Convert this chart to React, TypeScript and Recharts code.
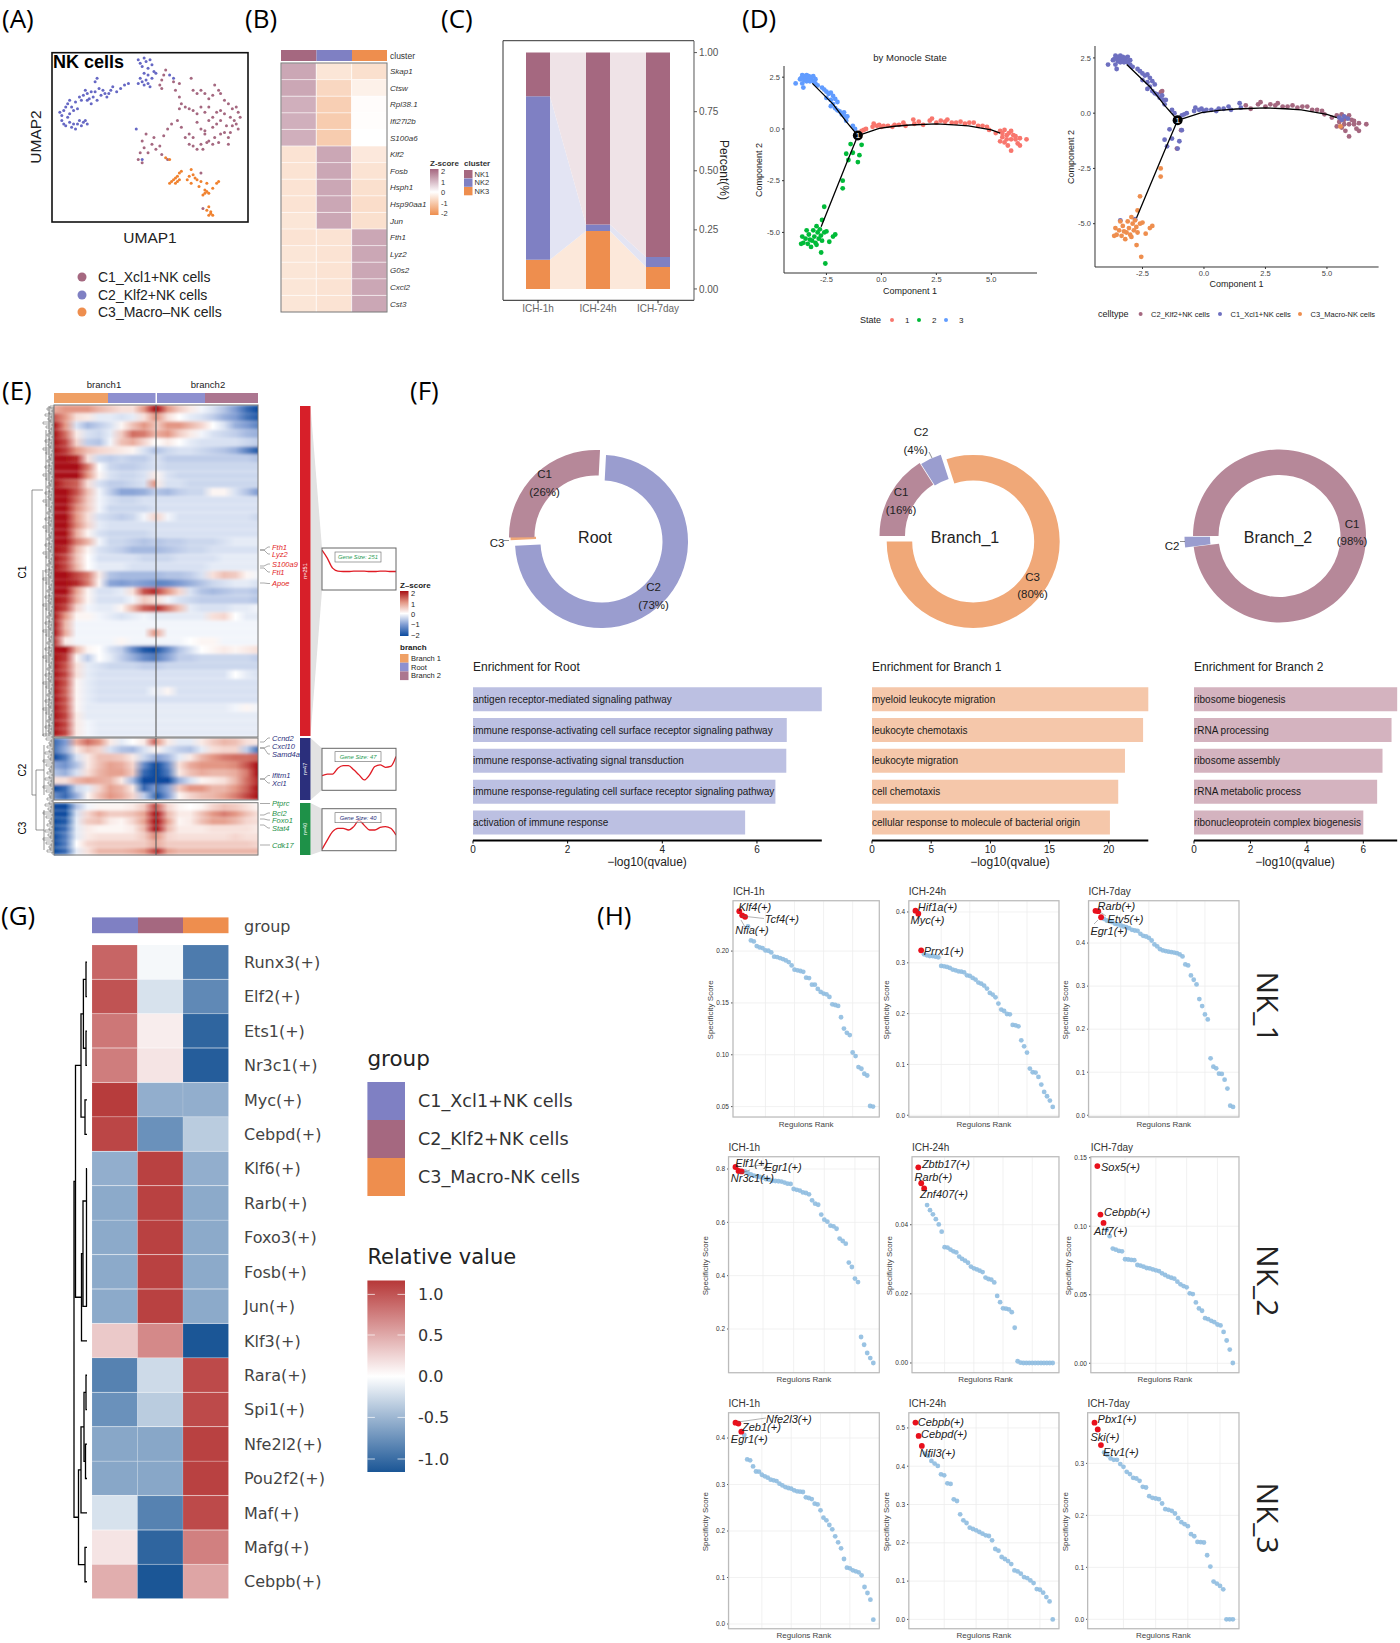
import React from 'react';
import {
  Area, AreaChart, Bar, BarChart, CartesianGrid, Cell, Line, LineChart, LabelList,
  Pie, PieChart, Scatter, ScatterChart, XAxis, YAxis,
} from 'recharts';

const SANS = '"Liberation Sans", Arial, sans-serif';
const DEJA = '"DejaVu Sans", sans-serif';
const NK1 = '#A56880';
const NK2 = '#7F80C3';
const NK3 = '#EE8E4E';

// ---- A: UMAP
const umapKlf2 = [[4,65],[5,63],[6,66],[7,68],[5,60],[6,58],[8,62],[9,64],[7,57],[9,59],[10,56],[11,58],[12,55],[13,58],[14,60],[15,57],[16,59],[17,60],[18,58],[8,70],[9,72],[10,68],[11,66],[13,67],[12,71],[14,74],[15,72],[16,75],[17,78],[18,76],[19,73],[20,77],[18,72],[20,70],[21,74],[22,77],[23,72],[22,83],[23,85],[24,79],[25,75],[26,78],[27,76],[28,74],[29,76],[30,78],[31,80],[33,77],[35,79],[37,81],[39,82],[44,82],[45,85],[46,83],[47,81],[48,84],[49,82],[50,80],[44,96],[45,94],[46,92],[47,97],[48,95],[49,91],[50,96],[51,93],[52,89],[53,88],[47,88],[49,87],[51,85],[60,87],[62,85],[43,55],[46,37]];
const umapXcl1 = [[57,87],[56,84],[58,90],[55,81],[56,79],[62,83],[65,82],[71,85],[63,78],[65,74],[72,78],[74,76],[76,78],[78,76],[80,73],[82,75],[83,81],[85,78],[86,76],[88,72],[90,70],[92,67],[94,68],[95,65],[96,62],[93,60],[66,70],[65,67],[68,68],[70,67],[72,66],[74,64],[76,68],[78,65],[80,68],[82,62],[84,65],[86,66],[88,64],[86,60],[89,57],[91,62],[92,57],[95,55],[94,58],[74,59],[76,55],[78,54],[80,60],[82,56],[84,58],[86,52],[88,53],[90,50],[83,50],[80,48],[78,52],[76,46],[72,50],[70,52],[68,50],[70,46],[66,56],[64,60],[61,58],[59,55],[57,51],[55,45],[52,50],[48,52],[46,48],[47,44],[45,41],[44,37],[46,35],[49,41],[51,46],[53,43],[56,40],[59,37],[72,45],[74,43],[77,43],[79,47],[82,46],[85,47],[90,46],[91,53],[76,29],[77,8]];
const umapMacro = [[66,30],[65,29],[64,27],[63,26],[62,25],[64,24],[65,25],[61,24],[60,23],[63,23],[69,25],[70,27],[72,28],[73,26],[71,31],[74,25],[76,24],[71,23],[75,21],[78,19],[79,18],[79,23],[84,23],[85,24],[82,20],[78,17],[77,16],[80,17],[80,9],[79,7],[81,6],[80,4],[81,5],[82,4],[58,38],[60,37]];

// ---- B: cluster heatmap
const bGenes = ['Skap1','Ctsw','Rpl38.1','Ifi27l2b','S100a6','Klf2','Fosb','Hsph1','Hsp90aa1','Jun','Fth1','Lyz2','G0s2','Cxcl2','Cst3'];
const bNk1 = [1.15,1.15,1.05,1.05,1.05,-.5,-.5,-.5,-.5,-.45,-.5,-.45,-.45,-.45,-.45];
const bNk2 = [-.45,-.7,-.85,-.9,-.9,1.15,1.15,1.15,1.15,1.15,-.5,-.5,-.5,-.5,-.5];
const bNk3 = [-.55,-.25,-.05,-.03,0,-.4,-.5,-.55,-.6,-.55,1.15,1.15,1.15,1.15,1.15];

// ---- C: composition per stage
const stages = ['ICH-1h','ICH-24h','ICH-7day'];
const shareNk1 = [.185,.727,.865];
const shareNk2 = [.691,.028,.042];
const shareNk3 = [.124,.245,.093];

// ---- D: trajectory
const state1 = [[-.9,-.1],[-.8,-.05],[-.7,0],[-.4,.1],[-.35,.25],[-.2,.15],[-.1,.2],[0,.1],[.1,.15],[.3,.15],[.5,.1],[.6,.2],[.8,.2],[1,.3],[1.1,.15],[1.45,.45],[1.5,.25],[1.7,.35],[1.9,.2],[2.2,.4],[2.3,.5],[2.5,.3],[2.7,.4],[2.9,.35],[3,.45],[3.2,.3],[3.4,.3],[3.6,.35],[3.8,.25],[4,.3],[4.2,.3],[4.4,.15],[4.6,.15],[4.8,.1],[4.9,-.05],[5.2,-.2],[5.4,-.1],[5.5,-.2],[5.6,-.05],[5.7,-.3],[5.8,-.2],[5.9,-.1],[6,-.3],[6.1,-.35],[5.5,-.4],[5.7,-.5],[5.9,-.5],[6.1,-.5],[6.3,-.45],[6.6,-.5],[5.9,-1.05],[6.3,-.8],[5.6,-.65],[5.4,-.6],[5.75,-.8],[6.2,-.7]];
const state2 = [[-.9,-.77],[-1.4,-.73],[-1.6,-1.2],[-1.3,-1.15],[-1,-1.27],[-1.5,-1.5],[-1.07,-1.6],[-1.76,-2.5],[-1.76,-2.87],[-2.6,-3.76],[-2.7,-4.4],[-2.74,-5.97],[-2.55,-6.5],[-2.37,-5.45],[-3.65,-5.55],[-3.6,-5.2],[-3.55,-5.5],[-3.4,-4.9],[-3.3,-5.1],[-3.25,-5.35],[-3.2,-5.7],[-3.1,-4.9],[-3.05,-5.2],[-3,-5.5],[-2.95,-4.7],[-2.9,-5],[-2.85,-5.3],[-2.8,-4.85],[-2.75,-5.15],[-2.7,-5.4],[-2.6,-5],[-2.5,-4.95],[-2.1,-5.1],[-2.2,-5.2],[-3.45,-5.3],[-3.35,-5.55],[-3.15,-5.4],[-2.95,-5.6]];
const state3 = [[-3.9,2.2],[-3.7,2.4],[-3.6,2.6],[-3.5,2.55],[-3.4,2.6],[-3.3,2.55],[-3.2,2.5],[-3.1,2.55],[-3,2.4],[-3.4,2.3],[-3.6,2.2],[-3.55,2],[-3.25,2.3],[-3,2.2],[-2.9,2.1],[-2.7,2],[-2.6,1.9],[-2.5,1.8],[-2.4,1.7],[-2.3,1.75],[-2.5,1.5],[-2.2,1.6],[-2.3,1.4],[-2.1,1.45],[-2.2,1.2],[-2,1.3],[-2.3,1.1],[-2.1,1],[-2,.9],[-1.9,.85],[-1.8,.7],[-1.7,.8],[-1.65,.6],[-1.55,.6],[-1.6,.4],[-1.3,.15],[-1.2,0],[-3.55,2.5],[-3.45,2.45],[-3.35,2.45],[-3.25,2.45],[-3.15,2.35],[-3.5,2.35],[-3.3,2.35],[-3.1,2.3],[-3.65,2.45]];
const pathUp = [[-1.07,-.32],[-1.6,.35],[-2.2,1.2],[-3.14,2.2]];
const pathRight = [[-1.07,-.32],[-.1,.03],[.6,.13],[1.3,.19],[2.5,.24],[3.3,.2],[3.96,.15],[5,-.05],[5.4,-.2]];
const pathDown = [[-1.07,-.32],[-1.6,-1.7],[-2.74,-4.73]];
const branchPoint = [[-1.07,-.32]];
const extraKlf2 = [[-1.7,1],[-1.75,.95],[-1.1,-1.6],[-.93,-.77]];
const extraXcl1 = [[-3.4,-4.85],[-2.8,-4.8],[5.5,-.2],[5.7,-.15],[5.6,-.3],[5.85,-.25]];
const xcl1Cells = [...state3, ...state2.filter(p => p[1] > -2), ...state1.filter(p => p[0] < 1.6), ...extraXcl1];
const klf2Cells = [...state1.filter(p => p[0] >= 1.6), ...extraKlf2];
const macroCells = [...state2.filter(p => p[1] <= -2), [5.55,-.6]];

// ---- E: branch heatmap, each row holds 10 knots for branch1 and 10 for branch2
const c1Rows = [
  [.8,1,1,1,.7,.5,.3,.3,1,2, 2,1,.5,.2,-.1,-.3,-.6,-1,-1.6,-2],
  [1.5,1,.3,.2,-.2,-.2,-.3,-.2,.3,1, 1,.3,0,-.2,-.3,-.5,-.8,-1,-1.5,-1.8],
  [2,1,-.3,-.7,-.5,-.3,.1,.6,1,.6, .5,1,1,.7,.4,0,-.3,-.8,-1,-1.3],
  [2,1.3,.2,-.3,-.4,-.2,.5,1.3,1.2,.7, .8,1,.5,.2,-.1,-.3,-.4,-.5,-.7,-.8],
  [2,1.6,.4,-.5,-.6,-.1,.6,.8,.4,0, 0,.2,0,-.2,-.3,-.3,-.3,-.3,-.4,-.5],
  [2,1.7,1,.6,.4,.3,.2,.1,-.3,-.6, -.6,-.4,-.3,-.3,-.4,-.5,-.6,-.8,-1.3,-1.8],
  [2,2,1.8,.3,-.4,-.5,-.4,-.5,-.5,-.3, -.3,-.5,-.5,-.5,-.5,-.5,-.5,-.5,-.5,-.6],
  [2,2,2,1.2,0,-.4,-.5,-.5,-.4,-.3, -.3,-.4,-.4,-.4,-.4,-.4,-.4,-.4,-.4,-.4],
  [2,2,2,1,.1,-.3,-.4,-.4,-.3,.2, .1,-.3,-.4,-.4,-.4,-.4,-.4,-.4,-.4,-.4],
  [2,1.6,1.4,.3,-.3,-.5,-.5,-.4,-.3,1, .2,-.3,-.3,-.4,-.4,-.4,-.4,-.4,-.4,-.4],
  [2,2,1.5,.6,-.1,-.5,-.9,-.9,-.8,-.5, -.6,-.7,-.5,-.4,-.4,.1,.1,-.3,-.6,-1],
  [2,2,1.3,.5,-.1,-.3,-.4,-.4,-.3,-.3, -.3,-.3,-.3,-.3,-.3,-.3,-.3,-.3,-.3,-.3],
  [2,2,1.1,.5,-.1,-.4,-.4,-.4,-.4,-.3, -.3,-.3,-.3,-.3,-.3,-.3,-.3,-.3,-.3,-.3],
  [2,2,1,.3,-.3,-.4,-.5,-.4,-.1,.4, .4,-.1,-.3,-.3,-.3,-.3,-.3,-.3,-.3,-.4],
  [2,2,1.1,.4,-.2,-.3,-.3,-.3,-.3,-.3, -.3,-.3,-.3,-.3,-.3,-.3,-.3,-.3,-.3,-.3],
  [2,2,.8,.1,-.3,-.4,-.4,-.4,-.4,-.3, -.3,-.3,-.3,-.3,-.3,-.3,-.3,-.3,-.3,-.3],
  [2,2,1.2,.7,-.1,-.4,-.4,-.5,-.6,-.5, -.6,-.5,-.5,-.4,-.4,-.4,-.3,-.2,-.2,-.2],
  [2,1.8,.7,.1,-.3,-.4,-.5,-.7,-.7,-.7, -.7,-.6,-.5,-.4,-.4,-.3,-.3,-.3,-.3,-.3],
  [2,1.6,.6,0,-.3,-.3,-.3,-.3,-.4,-.4, -.4,-.4,-.3,-.3,-.3,-.3,-.2,-.2,-.2,-.2],
  [2,1.6,.7,0,-.2,-.2,-.2,-.3,-.3,-.3, -.3,-.3,-.3,-.3,-.3,-.2,-.2,-.2,-.2,-.2],
  [2,2,1.6,1.2,.2,-.6,-.7,-.7,-.7,-.7, -.7,-.6,-.6,-.5,-.3,.3,.6,.5,.1,-.1],
  [2,2,1.8,1.2,.1,-.9,-1,-.9,-1,-1.1, -1.3,-1.2,-1,-.8,-.6,-.4,-.3,-.2,-.2,-.3],
  [2,2,.9,.1,-.3,-.3,-.2,.3,1.5,1.8, 1.6,1,.4,-.3,-.6,-.7,-.6,-.5,-.5,-.6],
  [2,1.8,.8,.1,-.3,-.3,-.3,-.1,.5,.3, .3,-.1,-.3,-.4,-.5,-.5,-.5,-.5,-.5,-.6],
  [2,1.6,.4,-.1,-.2,-.2,.1,.7,1.4,1.6, 1.8,1.2,.6,-.2,-.3,-.3,-.3,-.2,-.2,-.1],
  [2,1,.1,.1,-.1,-.2,-.3,-.2,-.1,-.2, -.2,-.2,-.2,-.2,-.2,.3,.4,0,-.2,-.2],
  [2,.7,-.1,-.1,-.1,-.1,-.1,-.1,-.1,-.1, -.1,-.1,-.1,-.1,-.1,-.1,-.1,-.1,-.1,-.1],
  [2,.8,-.1,-.1,-.1,-.1,-.1,-.1,-.1,1, .8,-.1,-.1,-.1,-.1,-.1,-.1,-.1,-.1,-.1],
  [1.8,.2,-.1,-.1,-.1,-.1,.1,-.1,-.1,-.1, -.1,-.1,-.1,0,.1,.1,-.1,-.1,-.1,-.1],
  [2,2,.7,.1,0,-.3,-.5,-1.2,-1.8,-2, -1.8,-1.2,-.6,-.3,0,.1,.2,.1,.2,.3],
  [2,1.7,.1,-.5,0,-.2,-.5,-.8,-1.2,-1.4, -1.3,-.9,-.5,-.5,-.4,-.4,-.4,-.4,-.4,-.5],
  [2,1.5,.3,-.2,-.3,-.4,-.4,-.4,-.5,-.5, -.5,-.4,-.4,-.4,-.4,-.4,-.4,-.4,-.4,-.4],
  [2,1.6,.3,-.2,-.3,-.3,-.3,-.3,-.3,-.3, -.3,-.3,-.3,-.3,-.3,-.3,-.3,0,-.2,-.3],
  [2,1.5,.1,-.2,-.3,-.3,-.3,-.3,-.3,-.3, -.3,-.3,-.3,-.3,-.3,-.3,-.3,-.3,-.3,-.3],
  [2,1.4,.1,-.2,-.3,-.3,-.3,-.3,-.3,-.1, -.2,.1,-.3,-.3,-.3,-.3,-.3,-.3,-.3,-.3],
  [2,1.5,.1,-.2,-.3,-.3,-.3,-.3,-.3,-.3, -.3,-.3,-.3,-.3,-.3,-.3,-.3,-.3,-.3,-.3],
  [2,1.5,.1,-.2,-.2,-.2,-.2,-.2,-.2,-.2, -.2,-.2,-.2,-.2,-.2,-.2,-.2,-.1,.1,-.1],
  [2,1.6,.2,-.2,-.2,-.2,-.2,-.2,-.2,-.2, -.2,-.2,-.2,-.2,-.2,-.2,-.2,-.2,-.2,-.2],
  [2,1.6,.2,-.1,-.2,-.2,-.2,-.2,-.2,-.2, -.2,-.2,-.2,-.2,-.2,-.2,-.2,-.2,-.2,-.2],
  [2,1.6,.2,-.1,-.2,-.2,-.2,-.2,-.2,-.2, -.2,-.2,-.2,-.2,-.2,-.2,-.2,-.2,-.2,-.2],
];
const c2Rows = [
  [-1.6,-1,.8,1.3,1,.2,-.2,0,.2,1.4, 1,.2,-.2,-.2,.2,.5,.7,.6,.3,.2],
  [-1.5,-.8,.2,.6,.4,-.3,-.6,-.7,-.3,.1, .1,-.3,-.5,-.6,-.2,.3,.4,.4,-.5,-1.5],
  [-2,-1.4,-.3,.2,.6,.6,.5,.2,-.4,-.8, -1,-.7,-.2,.2,.7,1,1.2,1.3,1.3,1.4],
  [-.9,-1.1,-.6,.2,.6,.9,.8,.4,-1.2,-2, -2,-1.2,.3,.8,1,1,1,1.1,1.5,2],
  [-.6,-.8,-.3,.3,.7,.9,.9,.5,-1.6,-2, -2,-1.4,.2,.6,.8,.7,.7,.8,1.2,2],
  [.3,.3,.7,.9,.8,.7,.2,-.7,-2,-2, -2,-2,-.8,-.3,.1,.2,.3,.7,1.3,1.8],
  [-2,-1.6,-.4,-.2,.4,.9,.7,.2,-1.6,-1, -1.5,-.9,.5,1,1,.7,.7,1,1.4,2],
  [-1.2,-1.6,-.8,.1,.6,1,.8,.4,-.5,-1.5, -1.9,-1,.1,.4,.6,.7,.9,1.2,1.6,2],
];
const c3Rows = [
  [-2,-2,-.6,-.1,.1,.1,.1,.2,.5,1.6, 1.4,.4,.1,0,.1,.4,.6,.5,.3,.1],
  [-2,-2,-.3,.4,.8,.5,.5,.6,.9,2, 2,.7,.2,.2,.6,1,1.2,1,.6,.3],
  [-2,-1.8,-.2,.5,.6,.2,.1,.4,.9,2, 2,.9,.1,.2,.6,.9,.9,.7,.4,.3],
  [-2,-1.6,-.2,.2,.1,.1,.1,.2,.7,2, 2,.7,.2,.2,.2,.3,.3,.3,.3,.2],
  [-2,-1.4,-.2,.2,.3,.3,.3,.3,.5,1.1, 1,.4,.3,.3,.3,.3,.3,.4,.3,.3],
  [-2,-1.4,0,.4,.5,.5,.5,.5,.5,.8, .8,.5,.5,.5,.5,.5,.5,.5,.5,.4],
  [-2,-1.6,-.2,.3,.7,.7,.7,.8,1,1.6, 1.8,.9,.7,.7,.7,.7,.7,.7,.7,.7],
];
const trend251 = [95,76,52,45,44,44,45,45,45,44,44,45,45,44,44];
const trend47 = [34,38,38,52,58,58,48,36,24,36,56,60,54,56,80];
const trend40 = [4,26,46,54,54,50,58,73,61,50,50,56,58,54,38];

// ---- F: donuts and enrichment
const rootShares = [73.4,.6,26];
const branch1Shares = [80,4,16];
const branch2Shares = [98,2];
const rootTerms = ['antigen receptor-mediated signaling pathway','immune response-activating cell surface receptor signaling pathway','immune response-activating signal transduction','immune response-regulating cell surface receptor signaling pathway','activation of immune response'];
const rootScores = [7.37,6.63,6.62,6.39,5.75];
const branch1Terms = ['myeloid leukocyte migration','leukocyte chemotaxis','leukocyte migration','cell chemotaxis','cellular response to molecule of bacterial origin'];
const branch1Scores = [23.34,22.9,21.37,20.8,20.1];
const branch2Terms = ['ribosome biogenesis','rRNA processing','ribosome assembly','rRNA metabolic process','ribonucleoprotein complex biogenesis'];
const branch2Scores = [7.2,7,6.68,6.49,6];

// ---- G: regulon heatmap
const gRegulons = ['Runx3(+)','Elf2(+)','Ets1(+)','Nr3c1(+)','Myc(+)','Cebpd(+)','Klf6(+)','Rarb(+)','Foxo3(+)','Fosb(+)','Jun(+)','Klf3(+)','Rara(+)','Spi1(+)','Nfe2l2(+)','Pou2f2(+)','Maf(+)','Mafg(+)','Cebpb(+)'];
const gXcl1 = [.85,.95,.75,.72,1.08,1.02,-.55,-.58,-.58,-.58,-.58,.3,-.85,-.75,-.6,-.6,-.2,.15,.45];
const gKlf2 = [-.05,-.2,.1,.15,-.55,-.75,1.05,1.05,1.05,1.05,1.05,.65,-.25,-.35,-.6,-.6,-.85,-1.05,-1.15];
const gMacro = [-.9,-.8,-1.05,-1.1,-.55,-.35,-.55,-.58,-.58,-.58,-.58,-1.15,1,1,1.05,1.05,1,.7,.5];

// ---- H: regulon specificity, ranked
const nk1h1 = [.2385,.2345,.233,.2238,.2103,.2093,.2048,.2035,.2029,.2006,.2003,.1987,.1946,.1942,.1933,.1923,.191,.1894,.1862,.1821,.1814,.1808,.18,.1744,.174,.1676,.1676,.1635,.1606,.159,.1583,.1558,.1487,.148,.1471,.1362,.1253,.1212,.119,.1022,.0987,.0881,.0865,.0817,.08,.0506,.05];
const nk1h24 = [.4026,.3967,.3246,.3167,.3148,.3134,.3134,.3121,.3108,.2938,.2931,.2918,.29,.2866,.2852,.2833,.2826,.2813,.2754,.2741,.2702,.2669,.261,.259,.2551,.2492,.2407,.2374,.2321,.2197,.2079,.2052,.1993,.1987,.1777,.177,.175,.1475,.1357,.1233,.0918,.0846,.084,.0754,.0603,.0459,.0374,.0289,.0164];
const nk1d7 = [.4749,.474,.46,.4563,.4524,.4509,.4486,.4447,.4432,.4408,.4385,.437,.4346,.4308,.4292,.4285,.4215,.4169,.4153,.4122,.406,.3968,.3921,.3859,.3828,.3813,.38,.379,.378,.3766,.3735,.3689,.3503,.348,.3248,.3148,.304,.2699,.2537,.2343,.2227,.1323,.1129,.109,.0967,.096,.0828,.0619,.0224,.0193];
const nk2h1 = [.8075,.7925,.791,.791,.785,.78,.775,.772,.77,.768,.762,.76,.756,.755,.754,.753,.749,.745,.744,.725,.722,.719,.712,.71,.705,.6825,.67,.666,.629,.61,.6025,.5875,.585,.576,.539,.53,.52,.449,.4325,.389,.376,.17,.141,.11,.091,.0725];
const nk2h24 = [.0566,.052,.0505,.0457,.0442,.043,.0416,.0401,.038,.0335,.0334,.0328,.0323,.032,.0308,.0301,.0296,.029,.0279,.0274,.0271,.0267,.0263,.0247,.0243,.0241,.0233,.0194,.0176,.0158,.0157,.0155,.0147,.0102,.0005,.0001,0,0,0,0,0,0,0,0,0,0,0];
const nk2d7 = [.1439,.1085,.1024,.0973,.0927,.0837,.0829,.082,.0817,.0759,.0757,.0754,.0752,.0717,.0712,.0705,.0695,.0692,.0685,.0678,.0673,.0656,.0644,.0632,.0624,.0617,.0595,.0576,.0563,.0554,.051,.0505,.0444,.04,.0383,.0329,.0322,.031,.03,.0283,.0276,.0229,.0166,.01,.0002];
const nk3h1 = [.433,.431,.4136,.4065,.354,.352,.339,.328,.3276,.321,.3176,.3147,.3104,.309,.3075,.3018,.298,.2946,.2925,.291,.2875,.2853,.2846,.2839,.2724,.271,.2688,.2588,.2573,.2444,.2287,.2229,.2129,.2036,.1885,.1756,.1627,.1398,.1211,.1197,.1154,.1133,.1111,.1047,.0796,.0667,.0523,.0093];
const nk3h24 = [.5139,.4791,.453,.433,.4268,.4138,.4068,.4007,.3789,.3763,.3554,.3537,.3136,.3092,.2744,.2587,.2517,.2395,.2361,.2326,.2282,.2239,.2195,.2178,.2064,.1838,.1794,.1629,.1577,.1524,.1446,.128,.1254,.1193,.1106,.108,.1019,.095,.0793,.0775,.0697,.0584,.047,0];
const nk3d7 = [.3783,.3654,.3353,.3211,.316,.3096,.307,.307,.2987,.2935,.2839,.2794,.2723,.271,.2665,.255,.2537,.237,.2338,.2325,.2312,.2229,.212,.2107,.2087,.2036,.1946,.1869,.1831,.1792,.1638,.1599,.149,.1484,.1478,.1233,.1015,.0726,.0687,.0642,.0578,0,0,0];

const pts = (a: number[][]) => a.map(([x, y]) => ({ x, y }));

type Stop = [number, number[]];
const ramp = (stops: Stop[]) => (v: number) => {
  const c = Math.max(stops[0][0], Math.min(stops[stops.length - 1][0], v));
  for (let i = 1; i < stops.length; i++) {
    if (c <= stops[i][0]) {
      const t = (c - stops[i - 1][0]) / (stops[i][0] - stops[i - 1][0]);
      const m = stops[i - 1][1].map((a, k) => Math.round(a + (stops[i][1][k] - a) * t));
      return `rgb(${m[0]},${m[1]},${m[2]})`;
    }
  }
  return '#fff';
};
const bScale = ramp([[-2, [238,142,78]], [0, [255,255,255]], [2, [165,102,127]]]);
const eScale = ramp([[-2, [11,74,158]], [-1, [126,155,210]], [0, [255,255,255]], [1, [227,150,132]], [2, [168,15,20]]]);
const gScale = ramp([[-1.15, [27,86,150]], [0, [255,255,255]], [1.1, [182,56,56]]]);

const At = ({ x, y, children }: any) => <div style={{ position: 'absolute', left: x, top: y }}>{children}</div>;
const T = ({ x, y, s = 10, c = '#000', a = 'start', r, f = SANS, i, b, children }: any) => (
  <text x={x} y={y} fontSize={s} fill={c} textAnchor={a} fontFamily={f} fontStyle={i ? 'italic' : undefined}
    fontWeight={b ? 'bold' : undefined} dominantBaseline="central"
    transform={r ? `rotate(${r} ${x} ${y})` : undefined}>{children}</text>
);
const dot = (r: number, fill: string, op = 1) => (p: any) => <circle cx={p.cx} cy={p.cy} r={r} fill={fill} fillOpacity={op} />;

function Umap() {
  return (
    <ScatterChart width={196} height={169} margin={{ top: 0, right: 0, bottom: 0, left: 0 }}>
      <XAxis type="number" dataKey="x" domain={[0, 100]} hide />
      <YAxis type="number" dataKey="y" domain={[0, 100]} hide />
      <Scatter data={pts(umapXcl1)} shape={dot(1.5, NK1)} isAnimationActive={false} />
      <Scatter data={pts(umapKlf2)} shape={dot(1.5, '#6668C4')} isAnimationActive={false} />
      <Scatter data={pts(umapMacro)} shape={dot(1.5, '#F0812E')} isAnimationActive={false} />
    </ScatterChart>
  );
}

function Heat({ names, cols, scale, width, height, axisW, font, tickFill, italic, line }: any) {
  const rows = names.map((name: string, i: number) => ({ name, w0: 1, w1: 1, w2: 1, z: cols.map((c: number[]) => c[i]) }));
  return (
    <BarChart width={width + axisW} height={height} data={rows} layout="vertical" barCategoryGap={0} barGap={0}
      margin={{ top: 0, right: 0, bottom: 0, left: 0 }}>
      <XAxis type="number" domain={[0, 3]} hide />
      <YAxis type="category" dataKey="name" orientation="right" width={axisW} interval={0} axisLine={false} tickLine={false}
        tickSize={0} tickMargin={font.margin} tick={{ fontSize: font.size, fontFamily: font.family, fill: tickFill, fontStyle: italic ? 'italic' : 'normal' }} />
      {[0, 1, 2].map(k => (
        <Bar key={k} dataKey={`w${k}`} stackId="h" isAnimationActive={false}>
          {rows.map((r: any, i: number) => <Cell key={i} fill={scale(r.z[k])} stroke={line} strokeWidth={0.6} />)}
        </Bar>
      ))}
    </BarChart>
  );
}

// ribbons sit on a numeric axis, from the edge of one bar to the edge of the next
function Ribbons() {
  const rows: any[] = [];
  stages.forEach((name, i) => {
    if (i < 2) {
      rows.push({ x: i + 1.2, r3: shareNk3[i], r2: shareNk2[i], r1: shareNk1[i] });
      rows.push({ x: i + 1.8, r3: shareNk3[i + 1], r2: shareNk2[i + 1], r1: shareNk1[i + 1] });
      rows.push({ x: i + 2 });
    }
  });
  return (
    <AreaChart width={191} height={259.3} data={rows} margin={{ top: 0, right: 0, bottom: 0, left: 0 }}>
      <XAxis type="number" dataKey="x" domain={[0.4167, 3.6]} hide />
      <YAxis type="number" domain={[-0.048, 1.049]} hide allowDataOverflow />
      <Area dataKey="r3" stackId="rib" stroke="none" fill="#FCE8DA" fillOpacity={1} isAnimationActive={false} dot={false} activeDot={false} />
      <Area dataKey="r2" stackId="rib" stroke="none" fill="#E3E4F3" fillOpacity={1} isAnimationActive={false} dot={false} activeDot={false} />
      <Area dataKey="r1" stackId="rib" stroke="none" fill="#EFE3E7" fillOpacity={1} isAnimationActive={false} dot={false} activeDot={false} />
    </AreaChart>
  );
}

function Composition() {
  const rows = stages.map((name, i) => ({ name, nk1: shareNk1[i], nk2: shareNk2[i], nk3: shareNk3[i] }));
  return (
    <BarChart width={226} height={283.3} data={rows} margin={{ top: 0, right: 0, bottom: 0, left: 0 }} style={{ background: 'transparent' }}>
      <XAxis type="category" dataKey="name" padding={{ left: 5, right: 6 }} interval={0} height={24}
        tick={{ fontSize: 10, fill: '#666', fontFamily: SANS }} stroke="#222" tickSize={3} />
      <YAxis type="number" orientation="right" width={35} domain={[-0.048, 1.049]} ticks={[0, .25, .5, .75, 1]} interval={0}
        allowDataOverflow tickFormatter={(v: number) => v.toFixed(2)} tick={{ fontSize: 10, fill: '#555', fontFamily: SANS }}
        stroke="#555" tickSize={3} />
      <Bar dataKey="nk3" stackId="bar" barSize={24} fill={NK3} isAnimationActive={false} />
      <Bar dataKey="nk2" stackId="bar" barSize={24} fill={NK2} isAnimationActive={false} />
      <Bar dataKey="nk1" stackId="bar" barSize={24} fill={NK1} isAnimationActive={false} />
    </BarChart>
  );
}

const nodeShape = (p: any) => (
  <g>
    <circle cx={p.cx} cy={p.cy} r={5} fill="#000" />
    <text x={p.cx} y={p.cy} fill="#fff" fontSize={8} fontFamily={SANS} textAnchor="middle" dominantBaseline="central">1</text>
  </g>
);

function Trajectory({ width, height, series }: any) {
  const none = () => <g />;
  return (
    <ScatterChart width={width + 30} height={height + 20} margin={{ top: 0, right: 0, bottom: 0, left: 0 }}>
      <XAxis type="number" dataKey="x" domain={[-4.43, 7.1]} ticks={[-2.5, 0, 2.5, 5]} interval={0} height={20} stroke="#333"
        tickFormatter={(v: number) => v.toFixed(1)} tick={{ fontSize: 7.5, fill: '#444', fontFamily: SANS }} tickSize={2} />
      <YAxis type="number" dataKey="y" domain={[-6.96, 3.04]} ticks={[-5, -2.5, 0, 2.5]} interval={0} width={30} stroke="#333"
        tickFormatter={(v: number) => v.toFixed(1)} tick={{ fontSize: 7.5, fill: '#444', fontFamily: SANS }} tickSize={2} />
      {series.map((s: any, i: number) => (
        <Scatter key={i} data={pts(s.points)} shape={dot(2.4, s.color)} isAnimationActive={false} />
      ))}
      {[pathUp, pathRight, pathDown].map((p, i) => (
        <Scatter key={`p${i}`} data={pts(p)} line={{ stroke: '#000', strokeWidth: 1.3 }} lineType="joint" shape={none} isAnimationActive={false} />
      ))}
      <Scatter data={pts(branchPoint)} shape={nodeShape} isAnimationActive={false} />
    </ScatterChart>
  );
}

function GradientRows({ id, rows, height }: any) {
  const table = rows.map((r: number[], i: number) => ({ row: `${id}${i}`, w: 1 }));
  return (
    <BarChart width={204} height={height} data={table} layout="vertical" barCategoryGap={0}
      margin={{ top: 0, right: 0, bottom: 0, left: 0 }}>
      <defs>
        {rows.map((r: number[], i: number) => (
          <linearGradient key={i} id={`${id}${i}`} x1="0" y1="0" x2="1" y2="0">
            {r.map((z, k) => (
              <stop key={k} offset={k < 10 ? (k / 9) * 0.497 : 0.503 + ((k - 10) / 9) * 0.497} stopColor={eScale(z)} />
            ))}
          </linearGradient>
        ))}
      </defs>
      <XAxis type="number" domain={[0, 1]} hide />
      <YAxis type="category" dataKey="row" hide />
      <Bar dataKey="w" isAnimationActive={false}>
        {table.map((t: any, i: number) => <Cell key={i} fill={`url(#${t.row})`} />)}
      </Bar>
    </BarChart>
  );
}

function Trend({ values }: any) {
  const data = values.map((v: number, i: number) => ({ i, v }));
  return (
    <LineChart width={74} height={42} data={data} margin={{ top: 0, right: 0, bottom: 0, left: 0 }}>
      <XAxis dataKey="i" type="number" domain={[0, values.length - 1]} hide />
      <YAxis type="number" domain={[0, 100]} hide />
      <Line dataKey="v" type="monotone" stroke="#E01B24" strokeWidth={1.3} dot={false} isAnimationActive={false} />
    </LineChart>
  );
}

function Donut({ left, top, slices, start }: any) {
  let clock = start;
  return (
    <PieChart width={240} height={220} margin={{ top: 0, right: 0, bottom: 0, left: 0 }}>
      {slices.map((s: any, i: number) => {
        const from = 90 - clock;
        clock += s.value * 3.6;
        return (
          <Pie key={i} data={[{ v: s.value }, { v: 100 - s.value }]} dataKey="v" cx={s.cx - left} cy={s.cy - top}
            innerRadius={61} outerRadius={86.5} startAngle={from} endAngle={from - 360} stroke="none" legendType="none"
            label={false} labelLine={false} isAnimationActive={false}>
            <Cell fill={s.color} />
            <Cell fill="none" />
          </Pie>
        );
      })}
    </PieChart>
  );
}

// plain text so a long term stays on one line
const termLabel = (p: any) => (
  <text x={p.x} y={p.y + p.height / 2} fontSize={10} fill="#1a1a1a" fontFamily={SANS} dominantBaseline="central">{p.value}</text>
);

function Enrichment({ terms, scores, color, width, max, ticks }: any) {
  const data = terms.map((term: string, i: number) => ({ term, score: scores[i] }));
  return (
    <BarChart width={width + 20} height={180} data={data} layout="vertical" barCategoryGap="10.5%"
      margin={{ top: 0, right: 10, bottom: 0, left: 10 }}>
      <XAxis type="number" domain={[0, max]} ticks={ticks} interval={0} height={23.5} stroke="#000"
        tick={{ fontSize: 10, fill: '#222', fontFamily: SANS }} tickSize={3} axisLine={{ strokeWidth: 2, stroke: '#000' }} />
      <YAxis type="category" dataKey="term" hide padding={{ top: 0, bottom: 2.5 }} />
      <Bar dataKey="score" fill={color} isAnimationActive={false}>
        <LabelList dataKey="term" content={termLabel} />
      </Bar>
    </BarChart>
  );
}

function RankPlot({ values, frame, domain, ticks, digits }: any) {
  const [x, y, w, h] = frame;
  const ranked = values.map((v: number, i: number) => ({ x: i + 1, y: v }));
  const pad = (values.length - 1) * 0.047;
  return (
    <At x={x - 24} y={y - 8}>
      <ScatterChart width={w + 24} height={h + 16} margin={{ top: 8, right: 0, bottom: 8, left: 0 }}>
        <CartesianGrid stroke="#EDEDED" strokeWidth={0.8} />
        <XAxis type="number" dataKey="x" domain={[1 - pad, values.length + pad]} ticks={[10, 20, 30, 40]} hide />
        <YAxis type="number" dataKey="y" domain={domain} ticks={ticks} interval={0} width={24} axisLine={false} allowDataOverflow
          tickFormatter={(v: number) => v.toFixed(digits)} tick={{ fontSize: 6.5, fill: '#333', fontFamily: SANS }} tickSize={2} stroke="#555" />
        <Scatter data={ranked.slice(3)} shape={dot(2.4, '#8FBDE0', 0.9)} isAnimationActive={false} />
        <Scatter data={ranked.slice(0, 3)} shape={dot(2.9, '#E8101C')} isAnimationActive={false} />
      </ScatterChart>
    </At>
  );
}

const rankPanels = [
  { values: nk1h1, frame: [733, 900.7, 146.3, 216.3], domain: [.0397, .2483], ticks: [.05, .1, .15, .2], digits: 2, title: 'ICH-1h' },
  { values: nk1h24, frame: [908.8, 900.7, 150.2, 216.3], domain: [-.004, .4216], ticks: [0, .1, .2, .3, .4], digits: 1, title: 'ICH-24h' },
  { values: nk1d7, frame: [1088.5, 900.7, 150.5, 216.3], domain: [-.0047, .4977], ticks: [0, .1, .2, .3, .4], digits: 1, title: 'ICH-7day' },
  { values: nk2h1, frame: [728.5, 1156.7, 150.8, 216], domain: [.035, .845], ticks: [.2, .4, .6, .8], digits: 1, title: 'ICH-1h' },
  { values: nk2h24, frame: [912, 1156.7, 147, 216], domain: [-.0029, .0596], ticks: [0, .02, .04], digits: 2, title: 'ICH-24h' },
  { values: nk2d7, frame: [1090.8, 1156.7, 148.2, 216], domain: [-.0071, .1505], ticks: [0, .05, .1, .15], digits: 2, title: 'ICH-7day' },
  { values: nk3h1, frame: [728.5, 1412.7, 150.8, 216], domain: [-.0107, .4538], ticks: [0, .1, .2, .3, .4], digits: 1, title: 'ICH-1h' },
  { values: nk3h24, frame: [908.8, 1412.7, 150.2, 216], domain: [-.025, .5389], ticks: [0, .1, .2, .3, .4, .5], digits: 1, title: 'ICH-24h' },
  { values: nk3d7, frame: [1087.6, 1412.7, 151.4, 216], domain: [-.0186, .397], ticks: [0, .1, .2, .3], digits: 1, title: 'ICH-7day' },
];

const rankLabels: [string, number, number][] = [
  ['Klf4(+)', 738.5, 906.7], ['Tcf4(+)', 764.7, 918.7], ['Nfia(+)', 735.3, 930],
  ['Hif1a(+)', 917.8, 906.7], ['Myc(+)', 910.6, 920], ['Prrx1(+)', 923.7, 950.7],
  ['Rarb(+)', 1097.6, 906], ['Etv5(+)', 1107.6, 918.7], ['Egr1(+)', 1090.4, 930.7],
  ['Elf1(+)', 735.3, 1163.3], ['Egr1(+)', 764.7, 1166.7], ['Nr3c1(+)', 730.8, 1178],
  ['Zbtb17(+)', 921.9, 1163.7], ['Rarb(+)', 914.6, 1176.7], ['Znf407(+)', 920, 1194.3],
  ['Sox5(+)', 1101, 1167.3], ['Cebpb(+)', 1104, 1211.7], ['Atf7(+)', 1094, 1230.7],
  ['Nfe2l3(+)', 766, 1419], ['Zeb1(+)', 742, 1427.3], ['Egr1(+)', 730.8, 1439.3],
  ['Cebpb(+)', 917.8, 1422], ['Cebpd(+)', 921, 1433.7], ['Nfil3(+)', 919.6, 1452.7],
  ['Pbx1(+)', 1097.6, 1419], ['Ski(+)', 1090.4, 1436.7], ['Etv1(+)', 1103, 1452.3],
];

// gene call-outs of panel E: name, row y, label y, colour
const eGenes: [string, number, number, string][] = [
  ['Fth1', 550, 547, '#E21E26'], ['Lyz2', 550, 554, '#E21E26'], ['S100a9', 566, 564, '#E21E26'], ['Ftl1', 568, 572, '#E21E26'], ['Apoe', 583, 583.5, '#E21E26'],
  ['Ccnd2', 742, 738, '#2B2F7C'], ['Cxcl10', 748, 746, '#2B2F7C'], ['Samd4a', 748, 754, '#2B2F7C'], ['Ifitm1', 779, 775.5, '#2B2F7C'], ['Xcl1', 779, 783, '#2B2F7C'],
  ['Ptprc', 803.5, 803.5, '#1E9148'], ['Bcl2', 815, 813, '#1E9148'], ['Foxo1', 819, 820, '#1E9148'], ['Stat4', 825, 828, '#1E9148'], ['Cdk17', 845, 845, '#1E9148'],
];

// dendrogram of panel G: [x of the merge, upper child, lower child], a number is a row
const gTree: any = [74,
  [75.5,
    [81, [83.4, [86, 0, 1], [86, 2, 3]], [85, 4, 5]],
    [81.5, [83, [86.5, 6, [86.5, 7, [86.5, 8, [86.5, 9, 10]]]], [86.5, 10, 10]], 11]],
  [78.5,
    [81, [84, [86, 12, 13], [85.5, 14, 15]], 16],
    [85, 17, 18]]];

function treePaths(node: any, y0: number, pitch: number, leafX: number, out: string[]): [number, number] {
  if (typeof node === 'number') return [leafX, y0 + pitch * (node + 0.5)];
  const [x, a, b] = node;
  const [xa, ya] = treePaths(a, y0, pitch, leafX, out);
  const [xb, yb] = treePaths(b, y0, pitch, leafX, out);
  out.push(`M${xa} ${ya}H${x}V${yb}H${xb}`);
  return [x, (ya + yb) / 2];
}

const eTwigs = [4, 7, 2, 5, 9, 3, 6, 4, 11, 2, 8, 3, 5];

function Overlay() {
  const gPaths: string[] = [];
  treePaths(gTree, 945, 34.42, 87, gPaths);
  const twigs: string[] = [];
  for (let y = 406, i = 0; y < 853; y += 2, i++) {
    const w = eTwigs[i % eTwigs.length];
    twigs.push(`M54 ${y}H${54 - w}V${y + 2}H54`);
  }
  return (
    <svg width={1400} height={1643} style={{ position: 'absolute', left: 0, top: 0, pointerEvents: 'none' }}>
      <defs>
        <filter id="rowBlur" x="0" y="0" width="1" height="1"><feGaussianBlur stdDeviation="0.5 1.6" /></filter>
        <linearGradient id="lgB" x1="0" y1="0" x2="0" y2="1">
          <stop offset="0" stopColor={bScale(2)} /><stop offset=".5" stopColor="#fff" /><stop offset="1" stopColor={bScale(-2)} />
        </linearGradient>
        <linearGradient id="lgE" x1="0" y1="0" x2="0" y2="1">
          <stop offset="0" stopColor={eScale(2)} /><stop offset=".25" stopColor={eScale(1)} /><stop offset=".5" stopColor="#fff" /><stop offset=".75" stopColor={eScale(-1)} /><stop offset="1" stopColor={eScale(-2)} />
        </linearGradient>
        <linearGradient id="lgG" x1="0" y1="0" x2="0" y2="1">
          <stop offset="0" stopColor={gScale(1.15)} /><stop offset=".5" stopColor="#fff" /><stop offset="1" stopColor={gScale(-1.15)} />
        </linearGradient>
      </defs>

      {[['(A)', 2, 18], ['(B)', 245, 18], ['(C)', 441, 18], ['(D)', 742, 18], ['(E)', 2, 390], ['(F)', 410, 390], ['(G)', 1, 915], ['(H)', 597, 915]].map(([t, x, y]: any) => (
        <T key={t} x={x} y={y} s={26} f='"Open Sans", sans-serif'>{t}</T>
      ))}

      {/* A */}
      <rect x={52} y={52.7} width={196} height={169.3} fill="none" stroke="#111" strokeWidth={1.6} />
      <T x={53} y={62} s={18} b>NK cells</T>
      <T x={150} y={237} s={15.5} a="middle" c="#222">UMAP1</T>
      <T x={35} y={137} s={15.5} a="middle" c="#222" r={-90}>UMAP2</T>
      {[['C1_Xcl1+NK cells', NK1, 277], ['C2_Klf2+NK cells', NK2, 295], ['C3_Macro–NK cells', NK3, 312]].map(([t, c, y]: any) => (
        <g key={t}><circle cx={82} cy={y} r={4.5} fill={c} /><T x={98} y={y} s={14} c="#222">{t}</T></g>
      ))}

      {/* B */}
      <rect x={281} y={50} width={35.5} height={11} fill={NK1} />
      <rect x={316.5} y={50} width={35.5} height={11} fill={NK2} />
      <rect x={352} y={50} width={35} height={11} fill={NK3} />
      <T x={390} y={56} s={8.5} c="#333">cluster</T>
      <rect x={281} y={63} width={106} height={249} fill="none" stroke="#777" />
      <T x={430} y={163} s={8} b c="#333">Z-score</T>
      <rect x={430} y={169} width={8.5} height={46} fill="url(#lgB)" />
      {[['2', 171], ['1', 182], ['0', 192], ['-1', 203], ['-2', 213]].map(([t, y]: any) => <T key={t} x={441} y={y} s={7.5} c="#333">{t}</T>)}
      <T x={464} y={163} s={8} b c="#333">cluster</T>
      {[['NK1', NK1, 170], ['NK2', NK2, 178.5], ['NK3', NK3, 187]].map(([t, c, y]: any) => (
        <g key={t}><rect x={464} y={y} width={8.5} height={8.3} fill={c} /><T x={474.5} y={y + 4.2} s={7.5} c="#333">{t}</T></g>
      ))}

      {/* C */}
      <path d="M503 300V40.7H694" fill="none" stroke="#333" strokeWidth={1} />
      <T x={724} y={170} s={12} a="middle" r={90} c="#222">Percent(%)</T>

      {/* D */}
      <T x={910} y={57} s={9.5} a="middle" c="#222">by Monocle State</T>
      <T x={910} y={291} s={9} a="middle" c="#222">Component 1</T>
      <T x={759} y={170} s={9} a="middle" r={-90} c="#222">Component 2</T>
      <T x={860} y={320} s={9} c="#222">State</T>
      {[['1', '#F8766D', 892], ['2', '#00BA38', 919], ['3', '#619CFF', 946]].map(([t, c, x]: any) => (
        <g key={t}><circle cx={x} cy={320} r={2} fill={c} /><T x={x + 13} y={320} s={8} c="#222">{t}</T></g>
      ))}
      <T x={1236.6} y={284} s={9} a="middle" c="#222">Component 1</T>
      <T x={1070.5} y={157} s={9} a="middle" r={-90} c="#222">Component 2</T>
      <T x={1098} y={314} s={9} c="#222">celltype</T>
      {[['C2_Klf2+NK cells', NK1, 1140.6], ['C1_Xcl1+NK cells', '#6E70C0', 1220], ['C3_Macro-NK cells', NK3, 1300]].map(([t, c, x]: any) => (
        <g key={t}><circle cx={x} cy={314} r={2} fill={c} /><T x={x + 10.5} y={314} s={7.5} c="#222">{t}</T></g>
      ))}

      {/* E */}
      <T x={104} y={384} s={9.5} a="middle" c="#222">branch1</T>
      <T x={208} y={384} s={9.5} a="middle" c="#222">branch2</T>
      <rect x={54} y={393} width={54} height={10} fill="#EFA065" />
      <rect x={108} y={393} width={47.5} height={10} fill="#8E90CF" />
      <rect x={157} y={393} width={48} height={10} fill="#8E90CF" />
      <rect x={205} y={393} width={53} height={10} fill="#AC7690" />
      {[[405, 332], [738, 62], [802.7, 52.3]].map(([y, h]) => (
        <g key={y}>
          <rect x={54} y={y} width={204} height={h} fill="none" stroke="#777" strokeWidth={1} />
          <line x1={156} x2={156} y1={y} y2={y + h} stroke="#666" strokeWidth={1.2} />
        </g>
      ))}
      <path d={twigs.join('')} fill="none" stroke="#555" strokeWidth={0.5} />
      <path d="M49 406V736M46 430V736M43 570V736M32 490V795M32 490H43M32 795H36M36 770V830M36 770H44M36 830H44M44 745V795M44 810V850" fill="none" stroke="#666" strokeWidth={0.7} />
      <T x={22} y={572} s={10} a="middle" r={-90}>C1</T>
      <T x={22} y={770} s={10} a="middle" r={-90}>C2</T>
      <T x={22} y={828} s={10} a="middle" r={-90}>C3</T>
      {eGenes.map(([g, y0, y, c]) => (
        <g key={g}>
          <path d={`M260 ${y0}H264L268 ${y}H270`} fill="none" stroke="#555" strokeWidth={0.5} />
          <T x={272} y={y} s={7.5} i c={c}>{g}</T>
        </g>
      ))}
      <polygon points="310.5,406 322,548 322,590.7 310.5,736" fill="#E2E2E2" />
      <polygon points="310.5,738 322,748.3 322,790 310.5,800" fill="#E2E2E2" />
      <polygon points="310.5,803 322,808.7 322,851 310.5,855" fill="#E2E2E2" />
      <rect x={300} y={406} width={10.5} height={330} fill="#D71F29" />
      <rect x={300} y={738} width={10.5} height={62} fill="#2B2F7C" />
      <rect x={300} y={803} width={10.5} height={52} fill="#1E9148" />
      <T x={305} y={571} s={5.5} a="middle" r={-90} c="#fff">n=251</T>
      <T x={305} y={769} s={5.5} a="middle" r={-90} c="#fff">n=47</T>
      <T x={305} y={829} s={5.5} a="middle" r={-90} c="#fff">n=40</T>
      {[[548, 'Gene Size: 251', 557, '#2E9D57'], [748.3, 'Gene Size: 47', 756.7, '#2E9D57'], [808.7, 'Gene Size: 40', 817.7, '#2B2F7C']].map(([y, t, ly, c]: any) => (
        <g key={y}>
          <rect x={322} y={y} width={74} height={42} fill="none" stroke="#666" />
          <rect x={335} y={ly - 5} width={46} height={10} fill="#fff" fillOpacity={0.6} stroke="#666" strokeWidth={0.6} />
          <T x={358} y={ly} s={5.8} a="middle" i c={c}>{t}</T>
        </g>
      ))}
      <T x={400} y={585} s={8} b c="#222">Z–score</T>
      <rect x={400} y={591} width={8.5} height={45} fill="url(#lgE)" />
      {[['2', 593], ['1', 604], ['0', 614], ['−1', 624], ['−2', 635]].map(([t, y]: any) => <T key={t} x={411} y={y} s={7.5} c="#222">{t}</T>)}
      <T x={400} y={647} s={8} b c="#222">branch</T>
      {[['Branch 1', '#EFA065', 654], ['Root', '#8E90CF', 662.7], ['Branch 2', '#AC7690', 671.4]].map(([t, c, y]: any) => (
        <g key={t}><rect x={400} y={y} width={8.5} height={8.7} fill={c} /><T x={411} y={y + 4.3} s={7.5} c="#222">{t}</T></g>
      ))}

      {/* F */}
      <T x={595} y={537} s={16} a="middle" c="#222">Root</T>
      <T x={965} y={537} s={16} a="middle" c="#222">Branch_1</T>
      <T x={1278} y={537} s={16} a="middle" c="#222">Branch_2</T>
      {[['C1', 544.5, 473.7], ['(26%)', 544.5, 491.7], ['C2', 653.6, 586.7], ['(73%)', 653.6, 604.7], ['C3', 497, 543],
        ['C2', 921, 432], ['(4%)', 915.6, 449.7], ['C1', 901, 491.7], ['(16%)', 901, 509.5], ['C3', 1032.5, 576.7], ['(80%)', 1032.5, 594.3],
        ['C1', 1352, 523.7], ['(98%)', 1352, 541.3], ['C2', 1172, 546]].map(([t, x, y]: any, i) => (
        <T key={i} x={x} y={y} s={11.5} a="middle" c="#222">{t}</T>
      ))}
      <path d="M504 540.5H509M929 452L932 458M1180 541.5H1185" fill="none" stroke="#444" strokeWidth={0.6} />
      <T x={473} y={667} s={12} c="#222">Enrichment for Root</T>
      <T x={872} y={667} s={12} c="#222">Enrichment for Branch 1</T>
      <T x={1194} y={667} s={12} c="#222">Enrichment for Branch 2</T>
      <T x={647} y={862} s={12} a="middle" c="#222">−log10(qvalue)</T>
      <T x={1010} y={862} s={12} a="middle" c="#222">−log10(qvalue)</T>
      <T x={1295} y={862} s={12} a="middle" c="#222">−log10(qvalue)</T>

      {/* G */}
      <rect x={92} y={917.4} width={46} height={15.8} fill={NK2} />
      <rect x={138} y={917.4} width={45} height={15.8} fill={NK1} />
      <rect x={183} y={917.4} width={45.5} height={15.8} fill={NK3} />
      <T x={244} y={926} s={16} f={DEJA} c="#444">group</T>
      <path d={gPaths.join('')} fill="none" stroke="#000" strokeWidth={1.3} />
      <T x={367.4} y={1058} s={21.5} f={DEJA} c="#222">group</T>
      {[['C1_Xcl1+NK cells', NK2, 1082], ['C2_Klf2+NK cells', NK1, 1120], ['C3_Macro-NK cells', NK3, 1158]].map(([t, c, y]: any) => (
        <g key={t}><rect x={367.4} y={y} width={37.6} height={38} fill={c} /><T x={418} y={y + 19} s={17.6} f={DEJA} c="#333">{t}</T></g>
      ))}
      <T x={367.4} y={1257.4} s={21} f={DEJA} c="#222">Relative value</T>
      <rect x={367.4} y={1280.5} width={37.6} height={191.5} fill="url(#lgG)" />
      {[['1.0', 1294.4], ['0.5', 1335], ['0.0', 1376], ['-0.5', 1417.4], ['-1.0', 1459]].map(([t, y]: any) => (
        <g key={t}>
          <path d={`M367.4 ${y}h7.5M397.5 ${y}h7.5`} stroke="#fff" strokeWidth={0.7} />
          <T x={418} y={y} s={16} f={DEJA} c="#333">{t}</T>
        </g>
      ))}

      {/* H */}
      {rankPanels.map((p, i) => {
        const [x, y, w, h] = p.frame;
        return (
          <g key={i}>
            <rect x={x} y={y} width={w} height={h} fill="none" stroke="#BBB" strokeWidth={1.2} />
            <T x={x} y={y - 9.5} s={10} c="#333">{p.title}</T>
            <T x={x + w / 2} y={y + h + 7} s={8} a="middle" c="#444">Regulons Rank</T>
            <T x={x - 22.5} y={y + h / 2 + 1} s={8} a="middle" r={-90} c="#444">Specificity Score</T>
          </g>
        );
      })}
      {rankLabels.map(([t, x, y], i) => <T key={i} x={x} y={y} s={11} i c="#222">{t}</T>)}
      <path d="M742 916L764 918.5M741 920L745 927M1100 912L1106 916M1094 924L1098 920M752 1166L764 1165M750 1170L738 1174M738 1422L766 1418" fill="none" stroke="#666" strokeWidth={0.5} />
      <T x={1268} y={1007} s={30} a="middle" r={90} f='"Open Sans", sans-serif' c="#222">NK_1</T>
      <T x={1268.8} y={1280.7} s={30} a="middle" r={90} f='"Open Sans", sans-serif' c="#222">NK_2</T>
      <T x={1268} y={1518} s={30} a="middle" r={90} f='"Open Sans", sans-serif' c="#222">NK_3</T>
    </svg>
  );
}

export default function App() {
  const xcl = ['#6E70C0', NK1, NK3];
  const rowBlur = { position: 'absolute', left: 54, filter: 'url(#rowBlur)' } as const;
  return (
    <div style={{ position: 'absolute', left: 0, top: 0, width: 1400, height: 1643, background: '#fff', overflow: 'hidden' }}>
      <At x={52} y={52.7}><Umap /></At>

      <At x={281} y={63}>
        <Heat names={bGenes} cols={[bNk1, bNk2, bNk3]} scale={bScale} width={106} height={249} axisW={45}
          font={{ size: 8, family: SANS, margin: 3 }} tickFill="#333" italic line="#fff" />
      </At>

      <At x={503} y={40.7}><Ribbons /></At>
      <At x={503} y={40.7}><Composition /></At>

      <At x={753.5} y={66}>
        <Trajectory width={253.5} height={207} series={[
          { points: state1, color: '#F8766D' }, { points: state2, color: '#00BA38' }, { points: state3, color: '#619CFF' },
        ]} />
      </At>
      <At x={1065} y={45.7}>
        <Trajectory width={283.6} height={221} series={[
          { points: klf2Cells, color: xcl[1] }, { points: xcl1Cells, color: xcl[0] }, { points: macroCells, color: xcl[2] },
        ]} />
      </At>

      <div style={{ ...rowBlur, top: 405 }}><GradientRows id="eA" rows={c1Rows} height={332} /></div>
      <div style={{ ...rowBlur, top: 738 }}><GradientRows id="eB" rows={c2Rows} height={62} /></div>
      <div style={{ ...rowBlur, top: 802.7 }}><GradientRows id="eC" rows={c3Rows} height={52.3} /></div>
      <At x={322} y={548}><Trend values={trend251} /></At>
      <At x={322} y={748.3}><Trend values={trend47} /></At>
      <At x={322} y={808.7}><Trend values={trend40} /></At>

      <At x={480} y={430}>
        <Donut left={480} top={430} start={3} slices={[
          { value: rootShares[0], color: '#9A9DCF', cx: 601.5, cy: 541.5 },
          { value: rootShares[1], color: '#F0A878', cx: 597, cy: 536 },
          { value: rootShares[2], color: '#B68899', cx: 595.5, cy: 536.5 },
        ]} />
      </At>
      <At x={860} y={430}>
        <Donut left={860} top={430} start={-18} slices={[
          { value: branch1Shares[0], color: '#F0A878', cx: 973.2, cy: 541.4 },
          { value: branch1Shares[2], color: '#B68899', cx: 966, cy: 536 },
          { value: branch1Shares[1], color: '#9A9DCF', cx: 967.5, cy: 537 },
        ]} />
      </At>
      <At x={1160} y={430}>
        <Donut left={1160} top={430} start={270} slices={[
          { value: branch2Shares[0], color: '#B68899', cx: 1279.5, cy: 536 },
          { value: branch2Shares[1], color: '#9A9DCF', cx: 1271, cy: 536.7 },
        ]} />
      </At>

      <At x={463.2} y={683.5}>
        <Enrichment terms={rootTerms} scores={rootScores} color="#BCC0E2" width={348.8} max={7.37} ticks={[0, 2, 4, 6]} />
      </At>
      <At x={861.9} y={683.5}>
        <Enrichment terms={branch1Terms} scores={branch1Scores} color="#F5C7AA" width={276.3} max={23.34} ticks={[0, 5, 10, 15, 20]} />
      </At>
      <At x={1183.8} y={683.5}>
        <Enrichment terms={branch2Terms} scores={branch2Scores} color="#D4B3BF" width={203.2} max={7.2} ticks={[0, 2, 4, 6]} />
      </At>

      <At x={92} y={945}>
        <Heat names={gRegulons} cols={[gXcl1, gKlf2, gMacro]} scale={gScale} width={136.5} height={654} axisW={110}
          font={{ size: 16, family: DEJA, margin: 15.5 }} tickFill="#444" line="rgba(255,255,255,0.2)" />
      </At>

      {rankPanels.map((p, i) => <RankPlot key={i} {...p} />)}

      <Overlay />
    </div>
  );
}
